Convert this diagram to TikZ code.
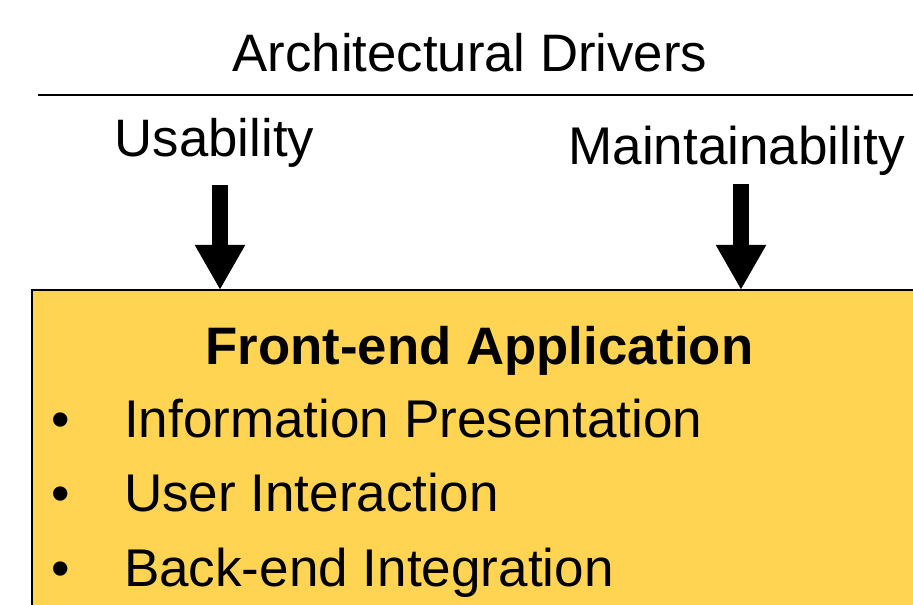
\documentclass[tikz,border=0pt]{standalone}
\usepackage{fontspec}
\setmainfont{Liberation Sans}
\usepackage{tikz}
\usetikzlibrary{arrows.meta, positioning, calc}

\definecolor{appyellow}{RGB}{254,212,82}

\begin{document}
\begin{tikzpicture}[
  txt/.style={inner sep=0pt, outer sep=0pt, font=\fontsize{30}{36}\selectfont},
  drv/.style={txt, anchor=base},
  item/.style={txt, anchor=base west, font=\fontsize{30.2}{36}\selectfont},
  dot/.style={txt, anchor=base},
  appbox/.style={draw=black, line width=0.03cm, fill=appyellow, outer sep=0pt,
    minimum width=18cm, minimum height=7cm, anchor=north west},
  fat/.style={line width=0.32cm, -{Triangle[width=0.94cm, length=0.9cm]}},
]
\useasboundingbox (0,0) rectangle (18.26,12.1);
\clip (0,0) rectangle (18.26,12.1);

% ===== drivers (top) =====
\node[drv] (drivers) at (9.4, 10.66) {Architectural Drivers};
\coordinate (ruleL) at (0.76, 10.2);
\coordinate (ruleR) at (18.3, 10.2);
\draw[line width=0.04cm] (ruleL) -- (ruleR);

\node[drv] (usab) at (4.29, 8.96) {Usability};
\node[drv, font=\fontsize{30.2}{36}\selectfont] (maint) at (14.73, 8.8) {Maintainability};

% ===== application box =====
\node[appbox] (app) at (0.64, 6.3) {};

\draw[fat] ([xshift=0.11cm, yshift=-0.34cm]usab.south) -- ([xshift=0.11cm]usab.south |- app.north);
\draw[fat] ([xshift=0.09cm, yshift=-0.15cm]maint.south) -- ([xshift=0.09cm]maint.south |- app.north);

\node[drv, font=\fontsize{30}{36}\selectfont\bfseries] (head) at (9.59, 4.8) {Front-end Application};

\node[dot] (b1) at (1.22, 3.34) {•};
\node[item] (i1) at (2.48, 3.34) {Information Presentation};
\node[dot] (b2) at (1.22, 1.86) {•};
\node[item] (i2) at (2.48, 1.86) {User Interaction};
\node[dot] (b3) at (1.22, 0.36) {•};
\node[item] (i3) at (2.48, 0.36) {Back-end Integration};

\end{tikzpicture}
\end{document}
